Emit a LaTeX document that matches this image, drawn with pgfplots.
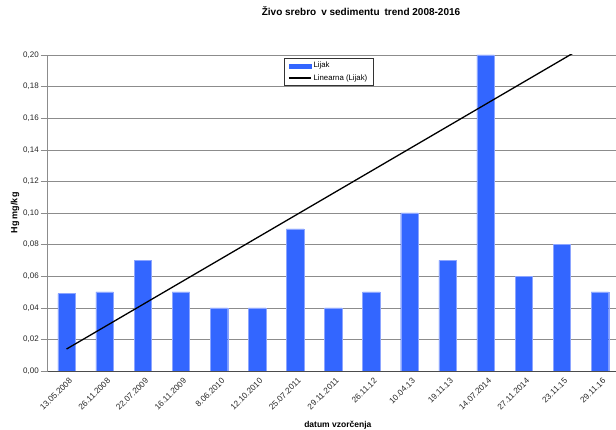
\documentclass[border=0pt]{standalone}
\usepackage{pgfplots}
\pgfplotsset{compat=1.18}
\usepackage{fontspec}
\setmainfont{Liberation Sans}
\definecolor{barblue}{RGB}{51,102,255}
\definecolor{baredge}{RGB}{140,165,255}
\definecolor{gridgray}{RGB}{140,140,140}
\begin{document}
\begin{tikzpicture}
\begin{axis}[
  at={(47.5pt,59pt)}, anchor=south west,
  scale only axis, width=571.5pt, height=316pt,
  xmin=-0.5, xmax=14.5,
  ymin=0, ymax=0.2,
  axis x line*=bottom, axis y line*=left,
  axis line style={-, gridgray},
  x axis line style={black!70},
  xtick={0,...,14},
  xticklabels={13.05.2008,26.11.2008,22.07.2009,16.11.2009,8.06.2010,12.10.2010,25.07.2011,29.11.2011,26.11.12,10.04.13,19.11.13,14.07.2014,27.11.2014,23.11.15,29.11.16},
  xtick style={draw=none},
  minor xtick={-0.5,0.5,...,13.5},
  minor x tick style={black!70},
  minor tick length=4pt,
  ytick={0,0.02,...,0.201},
  major tick length=7pt,
  tick align=outside,
  y tick style={gridgray},
  ymajorgrids, grid style={gridgray, line width=0.5pt},
  /pgf/number format/assume math mode=true,
  ticklabel style={font=\fontsize{8}{9}\selectfont, text=black!85},
  yticklabel style={inner sep=1.5pt, /pgf/number format/.cd, fixed, fixed zerofill, precision=2, use comma},
  xticklabel style={rotate=45, anchor=east, inner sep=0pt, xshift=2pt, yshift=-4pt,
    font=\fontsize{8.3}{9}\selectfont},
  title={Živo srebro\enspace v sedimentu\enspace trend 2008-2016},
  title style={at={(0.5486,1.12)}, anchor=center, font=\bfseries\fontsize{10}{12}\selectfont},
  xlabel={datum vzorčenja},
  xlabel style={at={(axis description cs:0.508,-0.171)}, anchor=center, font=\bfseries\fontsize{8.5}{10}\selectfont},
  ylabel={Hg mg/kg},
  ylabel style={at={(axis description cs:-0.0569,0.5)}, anchor=center, rotate=0, font=\bfseries\fontsize{9}{10}\selectfont},
  legend style={at={(0.4138,0.9905)}, anchor=north west, draw=black!80, line width=0.5pt,
    font=\fontsize{7.8}{9}\selectfont, row sep=1pt, inner xsep=4pt, inner ysep=2pt,
    /tikz/every even column/.append style={column sep=0pt},
    legend cell align=left},
]
\addplot[ybar, bar width=17.5pt, fill=barblue, draw=baredge, line width=0.4pt,
  legend image code/.code={\fill[barblue] (0pt,-2pt) rectangle (22pt,2pt);}]
  coordinates {(0,0.049) (1,0.050) (2,0.070) (3,0.050) (4,0.040) (5,0.040) (6,0.090) (7,0.040)
               (8,0.050) (9,0.100) (10,0.070) (11,0.200) (12,0.060) (13,0.080) (14,0.050)};
\addlegendentry{Lijak}
\addplot[black, line width=1.3pt,
  legend image code/.code={\draw[black, line width=1.3pt] (0pt,0pt) -- (22pt,0pt);}]
  coordinates {(0,0.0139) (14,0.2111)};
\addlegendentry{Linearna (Lijak)}
\end{axis}
\pgfresetboundingbox
\path[use as bounding box] (0pt,0pt) rectangle (616pt,430pt);
\end{tikzpicture}
\end{document}
